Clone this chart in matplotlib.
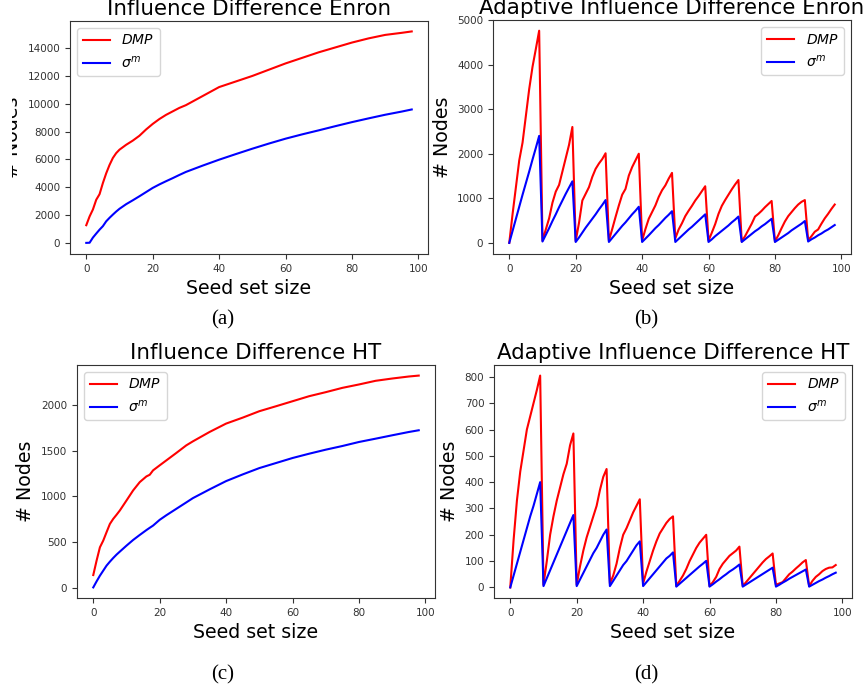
import matplotlib
matplotlib.use("Agg")
import matplotlib.pyplot as plt
from matplotlib.transforms import Bbox, TransformedBbox

W, H = 866, 691

# (a) influence difference, Enron
enron_x = [0, 1, 2, 3, 4, 5, 6, 7, 8, 9, 10, 12, 14, 16, 18, 20, 22, 24, 26, 28,
           30, 35, 40, 45, 50, 55, 60, 65, 70, 75, 80, 85, 90, 95, 98]
enron_dmp = [1270, 1900, 2400, 3100, 3500, 4300, 5000, 5600, 6100, 6450, 6700, 7050,
             7350, 7700, 8150, 8550, 8900, 9200, 9450, 9700, 9900, 10550, 11200, 11600,
             12000, 12450, 12900, 13300, 13700, 14050, 14400, 14700, 14950, 15100, 15200]
enron_sig = [0, 10, 380, 670, 950, 1200, 1550, 1800, 2030, 2250, 2450, 2780, 3060,
             3350, 3650, 3950, 4200, 4430, 4650, 4880, 5100, 5550, 5980, 6380, 6770,
             7140, 7490, 7800, 8090, 8390, 8680, 8950, 9210, 9440, 9590]

# (b) adaptive influence difference, Enron (seed sizes 0..98)
seeds = list(range(99))
ad_enron_dmp = [0, 650, 1250, 1850, 2250, 2850, 3450, 3950, 4350, 4760,
                50, 300, 550, 900, 1150, 1300, 1600, 1900, 2200, 2600,
                40, 450, 950, 1100, 1250, 1480, 1660, 1780, 1880, 2010,
                50, 310, 580, 840, 1080, 1210, 1510, 1700, 1850, 2000,
                50, 310, 540, 690, 840, 1030, 1180, 1290, 1440, 1570,
                100, 300, 440, 600, 720, 830, 950, 1050, 1160, 1270,
                50, 230, 420, 650, 830, 960, 1080, 1200, 1310, 1410,
                30, 150, 290, 430, 590, 650, 720, 800, 870, 940,
                30, 170, 330, 480, 600, 690, 780, 860, 920, 960,
                60, 150, 250, 300, 430, 550, 650, 760, 860]
ad_enron_sig = [0, 270, 540, 810, 1080, 1340, 1600, 1870, 2130, 2400,
                30, 180, 330, 490, 640, 800, 950, 1100, 1240, 1380,
                20, 120, 230, 340, 440, 540, 640, 750, 850, 960,
                20, 110, 200, 290, 380, 460, 550, 640, 720, 810,
                20, 95, 170, 250, 330, 400, 480, 560, 630, 710,
                20, 90, 160, 230, 300, 360, 430, 500, 570, 640,
                20, 80, 150, 210, 270, 330, 390, 460, 520, 590,
                20, 80, 140, 200, 260, 310, 370, 420, 480, 540,
                20, 70, 120, 170, 220, 280, 330, 380, 430, 490,
                30, 80, 120, 170, 210, 260, 300, 350, 400]

# (c) influence difference, HT
ht_x = [0, 1, 2, 3, 4, 5, 6, 7, 8, 10, 12, 14, 16, 17, 18, 20, 22, 25, 28, 30,
        35, 40, 45, 50, 55, 60, 65, 70, 75, 80, 85, 90, 95, 98]
ht_dmp = [142, 300, 445, 518, 610, 700, 755, 800, 847, 956, 1066, 1157, 1219, 1237,
          1285, 1340, 1394, 1475, 1558, 1602, 1704, 1796, 1861, 1931, 1985, 2040,
          2095, 2139, 2186, 2223, 2263, 2288, 2310, 2320]
ht_sig = [7, 73, 135, 190, 245, 288, 328, 365, 398, 463, 525, 580, 633, 658, 682,
          745, 795, 865, 935, 982, 1077, 1168, 1241, 1310, 1365, 1420, 1467, 1511,
          1551, 1595, 1631, 1668, 1704, 1723]

# (d) adaptive influence difference, HT
ad_ht_dmp = [0, 180, 330, 440, 520, 600, 650, 700, 750, 805,
             10, 100, 200, 270, 330, 380, 430, 470, 540, 585,
             10, 80, 140, 190, 230, 270, 310, 370, 420, 450,
             15, 45, 90, 150, 200, 225, 255, 285, 310, 335,
             15, 60, 100, 140, 175, 205, 225, 245, 260, 270,
             5, 25, 45, 70, 100, 125, 150, 170, 185, 200,
             5, 20, 40, 70, 90, 105, 120, 130, 140, 155,
             5, 20, 35, 50, 65, 80, 95, 108, 118, 129,
             10, 15, 20, 35, 50, 60, 72, 83, 95, 104,
             5, 25, 40, 50, 62, 70, 75, 76, 85]
ad_ht_sig = [0, 45, 90, 135, 180, 225, 270, 310, 355, 400,
             5, 35, 65, 95, 125, 155, 185, 215, 245, 275,
             5, 30, 55, 80, 105, 130, 150, 175, 200, 220,
             5, 25, 45, 65, 85, 100, 120, 140, 160, 175,
             5, 20, 35, 50, 65, 80, 95, 110, 120, 133,
             3, 14, 25, 36, 47, 58, 69, 80, 90, 101,
             3, 12, 22, 31, 41, 50, 60, 68, 77, 87,
             3, 11, 19, 27, 35, 43, 51, 59, 67, 75,
             3, 10, 18, 25, 33, 40, 47, 54, 61, 68,
             3, 10, 17, 24, 30, 37, 43, 50, 56]

titles = ["Influence Difference Enron", "Adaptive Influence Difference Enron",
          "Influence Difference HT", "Adaptive Influence Difference HT"]
captions = ["(a)", "(b)", "(c)", "(d)"]

plt.rcParams["font.family"] = "DejaVu Sans"
plt.rcParams["axes.edgecolor"] = "#333333"
plt.rcParams["xtick.color"] = "#333333"
plt.rcParams["ytick.color"] = "#333333"

fig = plt.figure(figsize=(W / 100, H / 100), dpi=100)


def px_axes(left, top, right, bottom):
    return fig.add_axes([left / W, 1 - bottom / H, (right - left) / W, (bottom - top) / H])


panels = [
    (px_axes(70, 21, 428, 254), enron_x, enron_dmp, enron_sig, "upper left"),
    (px_axes(493, 20, 851, 254), seeds, ad_enron_dmp, ad_enron_sig, "upper right"),
    (px_axes(77, 365, 435, 598), ht_x, ht_dmp, ht_sig, "upper left"),
    (px_axes(494, 365, 852, 598), seeds, ad_ht_dmp, ad_ht_sig, "upper right"),
]

for i, (ax, xs, dmp, sig, loc) in enumerate(panels):
    ax.plot(xs, dmp, color="r", lw=1.5, label="$DMP$")
    ax.plot(xs, sig, color="b", lw=1.5, label=r"$\sigma^m$")
    ax.set_title(titles[i], fontsize=15.4, pad=4.5)
    ax.set_xlabel("Seed set size", fontsize=13.7)
    ax.set_ylabel("# Nodes", fontsize=13.7)
    ax.tick_params(labelsize=7.5)
    ax.set_xticks([0, 20, 40, 60, 80, 100])
    ax.legend(loc=loc, fontsize=10)

panels[0][0].set_ylim(-800, 15950)
panels[1][0].set_ylim(-250, 5000)

# the left edge of panel (a) is cropped in the paper
lab = panels[0][0].yaxis.label
lab.set_clip_box(TransformedBbox(Bbox.from_extents(12 / W, 0, 1, 1), fig.transFigure))
lab.set_clip_on(True)

cap_pos = [(223, 320), (646, 320), (223, 675), (646, 675)]
for cap, (cx, cy) in zip(captions, cap_pos):
    fig.text(cx / W, 1 - cy / H, cap, ha="center", va="center",
             fontsize=15, family="Liberation Serif")

fig.savefig("out.png", dpi=100)
